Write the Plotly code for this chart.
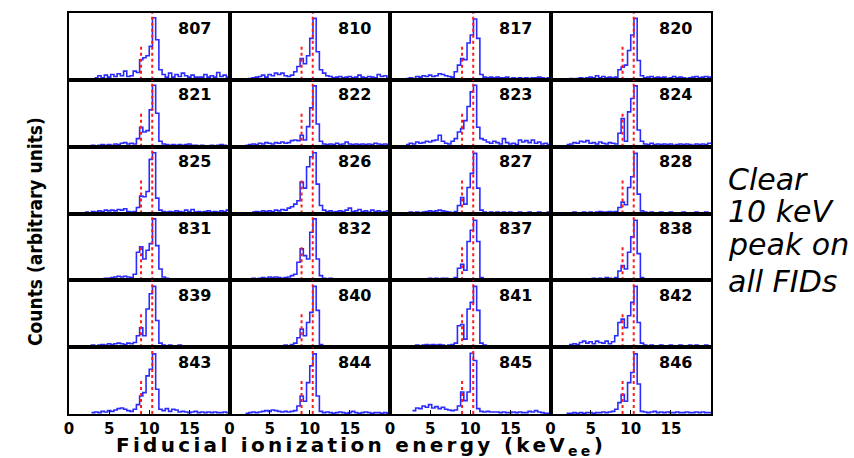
import numpy as np
import plotly.graph_objects as go
from plotly.subplots import make_subplots

# ---------------- data ----------------
fid_labels = ["807", "810", "817", "820",
              "821", "822", "823", "824",
              "825", "826", "827", "828",
              "831", "832", "837", "838",
              "839", "840", "841", "842",
              "843", "844", "845", "846"]

energy_edges = np.linspace(0.0, 20.0, 51)   # keV, 0.4 keV bins
tick_values = [0, 5, 10, 15]
tick_labels = ["0", "5", "10", "15"]

line_energies = [8.98, 10.37]   # keV: Zn and Ge lines
line_heights = [50, 100]        # arbitrary units

counts_807 = [0,0,0,0,0,0,0,0, 3,6,3,7,4,8,5,9, 6,13,5,6,13,11,30,33, 36,50,93,60,15,8,4,10, 4,8,5,10,6,4,7,4, 4,4,8,4,6,4,11,5,7,4]
counts_810 = [0,0,0,0,0,1,2,3, 4,5,7,4,8,6,10,8, 10,6,5,7,12,20,32,24, 36,62,92,42,15,10,6,5, 3,4,5,3,4,5,3,4, 7,4,3,5,4,3,8,5,6,3]
counts_817 = [0,0,0,0,0,2,3,2, 5,4,6,5,7,5,6,9, 8,6,5,4,12,22,32,30, 55,67,91,62,8,4,3,4, 3,4,3,3,4,2,3,2, 3,2,3,2,3,3,4,3,2,3]
counts_820 = [0,0,0,0,0,1,2,1, 2,3,2,3,4,3,6,3, 5,3,4,3,4,15,19,22, 44,67,92,29,6,3,4,5, 3,4,3,4,2,3,5,3, 4,3,2,3,4,5,3,4,5,4]
counts_821 = [0,0,0,0,0,0,1,2, 1,2,3,2,3,2,4,3, 5,6,4,5,4,12,29,22, 24,55,92,50,8,4,3,2, 3,2,3,2,3,4,2,2, 1,2,1,1,2,1,2,3,2,1]
counts_822 = [0,0,0,0,0,2,3,4, 3,5,4,6,5,4,6,5, 7,5,6,9,10,9,17,10, 30,58,91,34,8,4,3,4, 3,5,3,4,7,4,3,4, 3,4,3,4,3,5,4,3,4,3]
counts_823 = [0,0,0,0,0,3,5,4, 7,5,6,8,7,9,10,17, 8,5,4,8,12,22,27,39, 60,82,92,29,12,10,7,5, 8,6,4,12,6,4,5,3, 10,7,9,6,10,5,7,4,5,3]
counts_824 = [0,0,0,0,0,3,4,6, 5,8,7,9,5,6,4,7, 5,4,6,5,4,20,42,8, 52,72,91,25,8,4,3,5, 3,4,3,4,3,4,2,3, 4,3,4,3,2,4,3,4,3,5]
counts_825 = [0,0,0,0,0,2,1,3, 2,4,3,5,4,5,4,6, 5,7,3,2,3,9,26,25, 33,81,91,23,5,3,2,3, 2,4,3,2,5,3,6,2, 3,2,3,4,2,3,2,4,3,5]
counts_826 = [0,0,0,0,0,0,0,2, 3,2,4,3,4,3,5,4, 6,5,8,10,14,19,47,38, 70,85,91,44,12,5,3,4, 2,3,4,3,5,8,3,4, 6,3,4,2,5,3,4,2,3,4]
counts_827 = [0,0,0,0,0,1,2,1, 2,1,2,3,4,3,4,5, 4,3,2,1,3,12,24,14, 39,60,90,38,5,2,1,2, 1,2,1,2,1,2,1,1, 2,1,1,2,1,1,2,1,1,2]
counts_828 = [0,0,0,0,0,0,1,2, 1,1,2,1,2,1,2,3, 2,2,3,2,3,9,17,13, 39,55,90,29,4,2,1,2, 1,1,2,1,1,2,1,1, 1,2,1,1,1,2,1,1,2,1]
counts_831 = [0,0,0,0,0,0,1,2, 1,2,2,3,3,4,5,6, 5,6,5,4,9,42,50,32, 45,55,92,52,17,5,3,2, 2,1,2,1,2,1,2,1, 1,2,1,1,2,1,1,2,1,1]
counts_832 = [0,0,0,0,0,1,2,3, 2,3,4,3,5,4,5,4, 3,4,5,7,9,27,47,37, 32,72,92,32,7,3,2,3, 2,2,1,2,2,1,2,1, 2,1,2,1,1,2,1,2,1,1]
counts_837 = [0,0,0,0,0,1,2,1, 2,2,1,2,3,2,3,2, 3,3,2,2,4,18,24,15, 58,75,90,58,4,2,1,2, 1,1,2,1,1,1,2,1, 1,1,2,1,1,1,1,2,1,1]
counts_838 = [0,0,0,0,0,1,1,2, 1,2,1,2,2,3,2,3, 2,4,3,2,4,14,22,17, 42,65,90,40,4,2,1,1, 2,1,1,1,2,1,1,1, 1,2,1,1,1,1,2,1,1,1]
counts_839 = [0,0,0,0,0,0,2,3, 2,3,4,3,5,4,5,6, 5,4,6,5,7,17,29,17, 57,80,91,40,6,3,2,3, 2,2,3,2,2,1,2,2, 1,2,2,1,2,1,2,2,1,2]
counts_840 = [0,0,0,0,0,1,1,2, 1,1,2,1,2,2,1,2, 2,3,2,4,6,14,27,17, 37,52,91,55,4,2,1,2, 1,1,2,1,1,2,1,1, 1,2,1,1,1,2,1,1,2,1]
counts_841 = [0,0,0,0,0,2,1,2, 3,2,3,4,3,4,3,4, 3,2,3,4,6,32,34,12, 57,67,91,55,6,3,2,1, 2,1,2,1,1,2,1,1, 2,1,1,2,1,1,1,2,1,1]
counts_842 = [0,0,0,0,0,2,4,5, 4,7,9,6,8,5,9,7, 6,9,5,8,17,37,42,29, 47,67,91,37,6,3,2,3, 2,2,3,2,2,3,2,2, 3,2,2,3,2,3,2,2,3,2]
counts_843 = [0,0,0,0,0,0,0,2, 3,2,4,3,5,4,6,8, 9,7,5,4,7,14,27,32, 57,67,90,37,7,5,8,4, 7,6,3,4,3,2,3,4, 2,3,2,3,2,3,2,2,3,2]
counts_844 = [0,0,0,0,0,1,2,3, 2,3,4,5,4,6,5,4, 3,4,3,4,5,12,27,19, 47,72,90,27,4,2,3,2, 1,2,3,2,1,2,4,2, 1,2,3,2,1,2,2,1,2,1]
counts_845 = [0,0,0,0,0,0,0,5, 9,8,12,10,14,9,11,8, 10,7,6,5,6,12,33,20, 33,91,80,8,4,3,4,3, 3,3,2,3,2,2,3,2, 3,2,2,4,3,5,3,2,1,1]
counts_846 = [0,0,0,0,0,1,1,2, 1,2,1,2,2,1,2,2, 3,2,3,4,7,17,29,19, 47,62,90,45,4,3,2,3, 4,2,3,2,3,2,2,3, 2,2,3,2,2,3,2,3,2,2]

panel_counts = [counts_807, counts_810, counts_817, counts_820,
                counts_821, counts_822, counts_823, counts_824,
                counts_825, counts_826, counts_827, counts_828,
                counts_831, counts_832, counts_837, counts_838,
                counts_839, counts_840, counts_841, counts_842,
                counts_843, counts_844, counts_845, counts_846]

# ---------------- figure ----------------
NROWS, NCOLS = 6, 4
fig = make_subplots(rows=NROWS, cols=NCOLS, horizontal_spacing=0, vertical_spacing=0)

BLUE = "#2b2bff"
RED = "#ff1a1a"

for k, (label, counts) in enumerate(zip(fid_labels, panel_counts)):
    r = k // NCOLS + 1
    c = k % NCOLS + 1
    counts = np.asarray(counts, dtype=float)
    nz = np.nonzero(counts)[0]
    start = nz[0] if len(nz) else 0
    xs = list(energy_edges[start:])
    ys = list(counts[start:]) + [counts[-1]]
    fig.add_trace(go.Scatter(x=xs, y=ys, mode="lines", line_shape="hv",
                             line=dict(color=BLUE, width=1.6), showlegend=False,
                             hoverinfo="skip"), row=r, col=c)
    for e, h in zip(line_energies, line_heights):
        fig.add_trace(go.Scatter(x=[e, e], y=[0, h], mode="lines",
                                 line=dict(color=RED, width=2, dash="dot"),
                                 showlegend=False, hoverinfo="skip"), row=r, col=c)
    axn = "" if k == 0 else str(k + 1)
    fig.add_annotation(text=label, xref=f"x{axn} domain", yref=f"y{axn} domain",
                       x=0.78, y=0.775, xanchor="center", yanchor="middle",
                       showarrow=False,
                       font=dict(family="DejaVu Sans", size=16, color="black", weight="bold"))

for k in range(NROWS * NCOLS):
    r = k // NCOLS + 1
    c = k % NCOLS + 1
    bottom = (r == NROWS)
    fig.update_xaxes(range=[0, 20], showgrid=False, zeroline=False,
                     showline=True, mirror=True, linecolor="black", linewidth=1.6,
                     tickvals=tick_values if bottom else [],
                     ticktext=tick_labels if bottom else [],
                     showticklabels=bottom,
                     ticks="inside" if bottom else "", ticklen=4, tickcolor="black",
                     tickfont=dict(family="DejaVu Sans", size=15, color="black", weight="bold"),
                     row=r, col=c)
    fig.update_yaxes(range=[0, 100], showgrid=False, zeroline=False,
                     showline=True, mirror=True, linecolor="black", linewidth=1.6,
                     showticklabels=False, ticks="", row=r, col=c)

W, H = 854, 458
ML, MR, MT, MB = 69, 143, 13, 44
pw = W - ML - MR
ph = H - MT - MB

def px_x(x):
    return (x - ML) / pw

def px_y(y):
    return (H - MB - y) / ph

fig.add_annotation(text="<span style='letter-spacing:3.3px'>Fiducial ionization energy (keV<sub>ee</sub>)</span>",
                   xref="paper", yref="paper", x=px_x(361), y=px_y(446),
                   xanchor="center", yanchor="middle", showarrow=False,
                   font=dict(family="DejaVu Sans", size=20, color="black", weight="bold"))

fig.add_annotation(text="Counts (arbitrary units)", textangle=-90,
                   xref="paper", yref="paper", x=px_x(35), y=px_y(232),
                   xanchor="center", yanchor="middle", showarrow=False,
                   font=dict(family="Liberation Sans Narrow, DejaVu Sans Condensed, Roboto, sans-serif",
                             size=19, color="black", weight="bold"))

side_lines = ["Clear", "10 keV", "peak on", "all FIDs"]
side_centers = [179, 212, 245, 281]
for txt, yc in zip(side_lines, side_centers):
    fig.add_annotation(text=txt, xref="paper", yref="paper",
                       x=px_x(726), y=px_y(yc), xanchor="left", yanchor="middle",
                       showarrow=False,
                       font=dict(family="DejaVu Sans", size=30, color="black", style="italic"))

fig.update_layout(width=W, height=H, margin=dict(l=ML, r=MR, t=MT, b=MB),
                  paper_bgcolor="white", plot_bgcolor="white")

fig.write_html("out.html")
